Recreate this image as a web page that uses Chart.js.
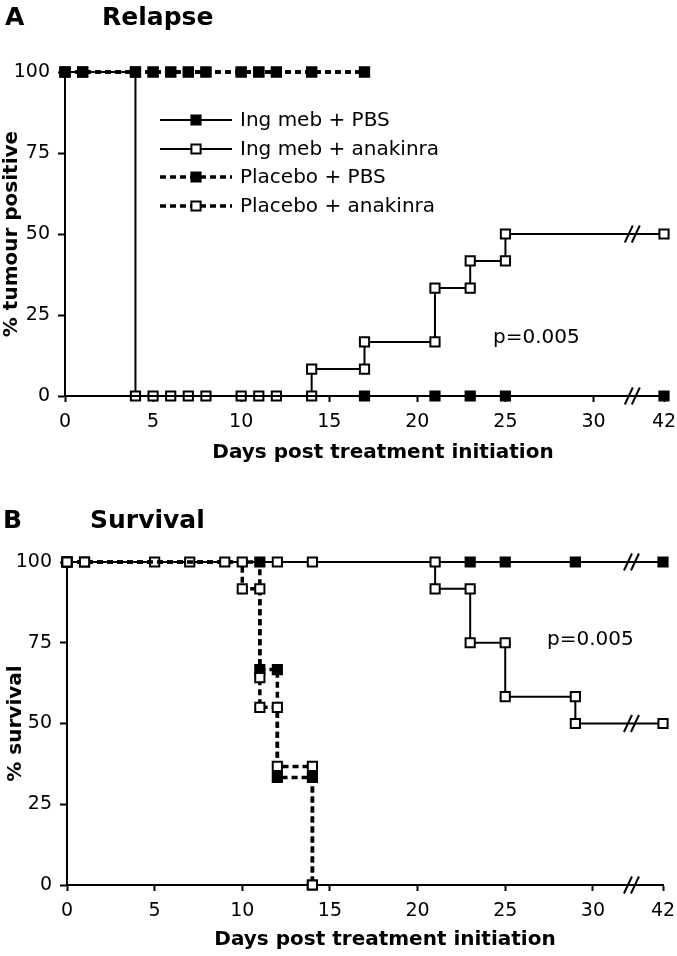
<!DOCTYPE html>
<html>
<head>
<meta charset="utf-8">
<script src="https://cdn.jsdelivr.net/npm/chart.js@4.4.1/dist/chart.umd.min.js"></script>
<style>
  html, body { margin: 0; padding: 0; background: #fff; }
  canvas { display: block; }
</style>
</head>
<body>
<canvas id="relapse" width="677" height="470"></canvas>
<canvas id="survival" width="677" height="486"></canvas>
<script>
// series labels and axis ticks
const SERIES = ['Ing meb + PBS', 'Ing meb + anakinra', 'Placebo + PBS', 'Placebo + anakinra'];
const X_TICKS = [0, 5, 10, 15, 20, 25, 30, 42];
const Y_TICKS = [0, 25, 50, 75, 100];

// A - relapse, % tumour positive
const relIngPbsDay = [0, 17, 21, 23, 25, 42];
const relIngPbsPct = [0, 0, 0, 0, 0, 0];
const relIngAnaDay = [0, 1, 4, 4, 5, 6, 7, 8, 10, 11, 12, 14, 14, 17, 17, 21, 21, 23, 23, 25, 25, 42];
const relIngAnaPct = [100, 100, 100, 0, 0, 0, 0, 0, 0, 0, 0, 0, 8.3, 8.3, 16.7, 16.7, 33.3, 33.3, 41.7, 41.7, 50, 50];
const relPlaPbsDay = [0, 1, 4, 5, 6, 7, 8, 10, 11, 12, 14, 17];
const relPlaPbsPct = [100, 100, 100, 100, 100, 100, 100, 100, 100, 100, 100, 100];
const relPlaAnaDay = [0, 1, 4, 5, 6, 7, 8, 10, 11, 12, 14, 17];
const relPlaAnaPct = [100, 100, 100, 100, 100, 100, 100, 100, 100, 100, 100, 100];

// B - survival, % survival
const survIngPbsDay = [0, 23, 25, 29, 42];
const survIngPbsPct = [100, 100, 100, 100, 100];
const survIngAnaDay = [0, 1, 5, 7, 12, 14, 21, 21, 23, 23, 25, 25, 29, 29, 42];
const survIngAnaPct = [100, 100, 100, 100, 100, 100, 100, 91.7, 91.7, 75, 75, 58.3, 58.3, 50, 50];
const survPlaPbsDay = [0, 11, 11, 12, 12, 14, 14];
const survPlaPbsPct = [100, 100, 66.7, 66.7, 33.3, 33.3, 0];
const survPlaAnaDay = [0, 1, 9, 10, 10, 11, 11, 11, 12, 12, 14, 14];
const survPlaAnaPct = [100, 100, 100, 100, 91.7, 91.7, 64.2, 55, 55, 36.7, 36.7, 0];

const FONT = '"DejaVu Sans", sans-serif';
const BREAK_FROM = 30;      // axis is broken after day 30
const BREAK_SQUEEZE = 4 / 12;
const BREAK_MARK = 32.2;

function axisPos(day) {
    return day <= BREAK_FROM ? day : BREAK_FROM + (day - BREAK_FROM) * BREAK_SQUEEZE;
}

function series(i, days, pct, filled, order, hideFirst) {
    const dashed = i >= 2;
    return {
        label: SERIES[i],
        data: days.map((d, k) => ({ x: axisPos(d), y: pct[k] })),
        borderColor: '#000',
        borderWidth: dashed ? 3.5 : 2,
        borderDash: dashed ? [6, 4] : [],
        pointStyle: 'rect',
        pointRadius: hideFirst ? (c => c.dataIndex === 0 ? 0 : 6.5) : 6.5,
        pointBorderWidth: 2,
        pointBorderColor: '#000',
        pointBackgroundColor: filled ? '#000' : '#fff',
        fill: false,
        tension: 0,
        clip: false,
        order: order
    };
}

const textPlugin = {
    id: 'texts',
    afterDraw(chart, args, opts) {
        const ctx = chart.ctx;
        ctx.save();
        ctx.fillStyle = '#000';
        ctx.textBaseline = 'alphabetic';
        (opts.items || []).forEach(t => {
            ctx.font = (t.bold ? 'bold ' : '') + t.size + 'px ' + FONT;
            ctx.textAlign = t.align || 'left';
            ctx.fillText(t.text, t.x, t.y);
        });
        ctx.restore();
    }
};

const breakPlugin = {
    id: 'axisBreak',
    afterDatasetsDraw(chart) {
        const ctx = chart.ctx;
        const xs = chart.scales.x, ys = chart.scales.y;
        const cx = xs.getPixelForValue(BREAK_MARK);
        const levels = new Set([0]);
        chart.data.datasets.forEach(ds => {
            const last = ds.data[ds.data.length - 1];
            if (last.x > BREAK_MARK) levels.add(last.y);
        });
        ctx.save();
        ctx.strokeStyle = '#000';
        ctx.lineWidth = 2;
        levels.forEach(v => {
            const cy = ys.getPixelForValue(v);
            [-3.5, 3.5].forEach(o => {
                ctx.beginPath();
                ctx.moveTo(cx + o - 4, cy + 8.5);
                ctx.lineTo(cx + o + 4, cy - 8.5);
                ctx.stroke();
            });
        });
        ctx.restore();
    }
};

const legendPlugin = {
    id: 'innerLegend',
    afterDraw(chart, args, opts) {
        if (!opts.show) return;
        const ctx = chart.ctx;
        ctx.save();
        chart.data.datasets.forEach((ds, i) => {
            const y = opts.rows[i];
            ctx.strokeStyle = '#000';
            ctx.lineWidth = ds.borderWidth;
            ctx.setLineDash(ds.borderDash);
            ctx.beginPath();
            ctx.moveTo(opts.x0, y);
            ctx.lineTo(opts.x1, y);
            ctx.stroke();
            ctx.setLineDash([]);
            ctx.fillStyle = ds.pointBackgroundColor;
            ctx.lineWidth = 2;
            Chart.helpers.drawPoint(ctx, { pointStyle: 'rect', radius: 6.5, borderWidth: 2, rotation: 0 },
                (opts.x0 + opts.x1) / 2, y);
            ctx.fillStyle = '#000';
            ctx.font = '20px ' + FONT;
            ctx.textAlign = 'left';
            ctx.textBaseline = 'middle';
            ctx.fillText(ds.label, opts.textX, y + 1);
        });
        ctx.restore();
    }
};

function makeChart(id, cfg) {
    return new Chart(document.getElementById(id), {
        type: 'line',
        data: { datasets: cfg.datasets },
        options: {
            responsive: false,
            animation: false,
            devicePixelRatio: 1,
            layout: { padding: cfg.padding },
            plugins: {
                legend: { display: false },
                tooltip: { enabled: false },
                texts: { items: cfg.texts },
                innerLegend: cfg.legend || { show: false }
            },
            scales: {
                x: {
                    type: 'linear',
                    min: 0,
                    max: axisPos(42),
                    afterBuildTicks: s => { s.ticks = X_TICKS.map(d => ({ value: axisPos(d) })); },
                    afterFit: s => {
                        s.height = cfg.xHeight;
                        s.paddingLeft = 0;
                        s.paddingRight = 0;
                    },
                    ticks: {
                        autoSkip: false, maxRotation: 0, padding: 9, color: '#000',
                        font: { family: FONT, size: 19 },
                        callback: (v, i) => X_TICKS[i]
                    },
                    grid: { drawOnChartArea: false, color: '#000', tickLength: 6, tickWidth: 2 },
                    border: { color: '#000', width: 2 }
                },
                y: {
                    min: 0,
                    max: 100,
                    afterBuildTicks: s => { s.ticks = Y_TICKS.map(v => ({ value: v })); },
                    afterFit: s => { s.width = cfg.yWidth; },
                    ticks: { padding: 8, color: '#000', font: { family: FONT, size: 19 } },
                    grid: { drawOnChartArea: false, color: '#000', tickLength: 7, tickWidth: 2 },
                    border: { color: '#000', width: 2 },
                    title: {
                        display: true, text: cfg.yTitle, color: '#000',
                        font: { family: FONT, size: 20, weight: 'bold' },
                        padding: { top: cfg.yTitlePad, bottom: 0 }
                    }
                }
            }
        },
        plugins: [breakPlugin, textPlugin, legendPlugin]
    });
}

makeChart('relapse', {
    datasets: [
        series(0, relIngPbsDay, relIngPbsPct, true, 1, true),
        series(1, relIngAnaDay, relIngAnaPct, false, 2),
        series(2, relPlaPbsDay, relPlaPbsPct, true, 0),
        series(3, relPlaAnaDay, relPlaAnaPct, false, 3)
    ],
    padding: { top: 72, right: 13, bottom: 0, left: 0 },
    xHeight: 74,
    yWidth: 65,
    yTitle: '% tumour positive',
    yTitlePad: 0,
    texts: [
        { text: 'A', x: 5, y: 25, size: 25, bold: true },
        { text: 'Relapse', x: 102, y: 25, size: 25, bold: true },
        { text: 'Days post treatment initiation', x: 383, y: 458, size: 20, bold: true, align: 'center' },
        { text: 'p=0.005', x: 493, y: 343, size: 20 }
    ],
    legend: { show: true, x0: 160, x1: 232, textX: 240, rows: [120, 149, 177, 206] }
});

makeChart('survival', {
    datasets: [
        series(0, survIngPbsDay, survIngPbsPct, true, 3),
        series(1, survIngAnaDay, survIngAnaPct, false, 1),
        series(2, survPlaPbsDay, survPlaPbsPct, true, 2),
        series(3, survPlaAnaDay, survPlaAnaPct, false, 0)
    ],
    padding: { top: 92, right: 14, bottom: 0, left: 0 },
    xHeight: 71,
    yWidth: 67,
    yTitle: '% survival',
    yTitlePad: 4,
    texts: [
        { text: 'B', x: 3, y: 58, size: 25, bold: true },
        { text: 'Survival', x: 90, y: 58, size: 25, bold: true },
        { text: 'Days post treatment initiation', x: 385, y: 475, size: 20, bold: true, align: 'center' },
        { text: 'p=0.005', x: 547, y: 175, size: 20 }
    ]
});
</script>
</body>
</html>
